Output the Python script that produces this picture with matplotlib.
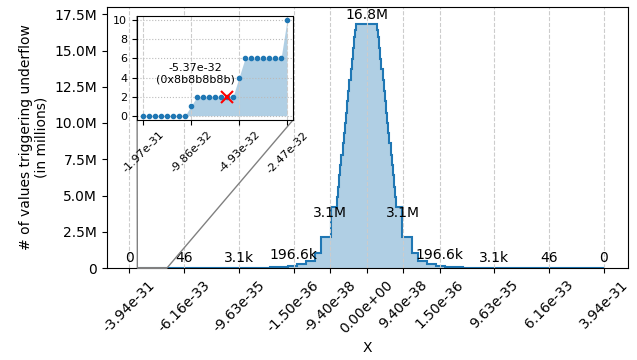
import numpy as np
import matplotlib.pyplot as plt

# x axis = float32 bit-pattern ordinal, in units of one exponent (2^23 patterns)
tick_pos = [-26, -20, -14, -8, -4, 0, 4, 8, 14, 20, 26]
tick_labels = ['-3.94e-31', '-6.16e-33', '-9.63e-35', '-1.50e-36', '-9.40e-38', '0.00e+00',
               '9.40e-38', '1.50e-36', '9.63e-35', '6.16e-33', '3.94e-31']
peak_values = [0, 46, 3072, 196608, 3145728, 16777216, 3145728, 196608, 3072, 46, 0]
peak_text = ['0', '46', '3.1k', '196.6k', '3.1M', '16.8M', '3.1M', '196.6k', '3.1k', '46', '0']

# step edges and counts (millions)
edges = [-25.2, -20, -16, -12.6, -10.6, -9.6, -8.6, -7.6, -6.6, -5.6, -5.0, -3.875,
         -3.25, -3.125, -3.0, -2.875, -2.75, -2.625, -2.5, -2.375, -2.25,
         -2.125, -2.0, -1.875, -1.75, -1.625, -1.5, -1.375, -1.25, -1.125,
         1.125, 1.25, 1.375, 1.5, 1.625, 1.75, 1.875, 2.0, 2.125,
         2.25, 2.375, 2.5, 2.625, 2.75, 2.875, 3.0, 3.125, 3.25,
         3.875, 4.98, 5.6, 6.6, 7.6, 8.6, 9.6, 10.6, 12.6, 16, 20, 26.0]
counts_m = [0.00002, 0.0003, 0.003, 0.012, 0.035, 0.07, 0.14, 0.26, 0.45, 1.03, 2.17,
            4.2,
            4.9, 5.6, 6.4, 7.1, 7.8, 8.6, 9.3, 10.0, 10.7,
            11.5, 12.2, 13.0, 13.7, 14.4, 15.2, 15.9, 16.4,
            16.8,
            16.4, 15.9, 15.2, 14.4, 13.7, 13.0, 12.2, 11.5,
            10.7, 10.0, 9.3, 8.6, 7.8, 7.1, 6.4, 5.6, 4.9,
            4.2, 2.17, 1.03, 0.45, 0.26, 0.14, 0.07, 0.035, 0.012, 0.003, 0.0003, 0.00002]

# zoomed region
inset_x = [-25.0, -24.875, -24.75, -24.625, -24.5, -24.375, -24.25, -24.125,
           -24.0, -23.875, -23.75, -23.625, -23.5, -23.375, -23.25, -23.125,
           -23.0, -22.875, -22.75, -22.625, -22.5, -22.375, -22.25, -22.125, -22.0]
inset_y = [0, 0, 0, 0, 0, 0, 0, 0, 1, 2, 2, 2, 2, 2, 2, 2, 4, 6, 6, 6, 6, 6, 6, 6, 10]
inset_ticks = [-25, -24, -23, -22]
inset_labels = ['-1.97e-31', '-9.86e-32', '-4.93e-32', '-2.47e-32']
mark_idx = 14

counts = np.array(counts_m) * 1e6

fig = plt.figure(figsize=(6.37, 3.6), dpi=100)
ax = fig.add_axes([107/637, 1 - 268/360, 521/637, 261/360])

ax.stairs(counts, edges, fill=True, color='tab:blue', alpha=0.35, lw=0)
ax.stairs(counts, edges, color='tab:blue', lw=1.5)

for x, v, t in zip(tick_pos, peak_values, peak_text):
    ax.annotate(t, (x, v), xytext=(0, 2), textcoords='offset points',
                ha='center', va='bottom', fontsize=10)

ax.set_xlim(-28.45, 28.65)
ax.set_ylim(0, 18e6)
ax.set_xticks(tick_pos)
ax.set_xticklabels(tick_labels, rotation=45)
ax.set_yticks(np.arange(0, 17.6e6, 2.5e6))
ax.set_yticklabels(['0'] + [f'{v/1e6:.1f}M' for v in np.arange(2.5e6, 17.6e6, 2.5e6)])
ax.grid(axis='x', ls='--', color='#cccccc', lw=0.8)
ax.set_xlabel('X')
ax.set_ylabel('# of values triggering underflow\n(in millions)')

axins = ax.inset_axes([30/521, 148/261, 156/521, 104/261])
axins.fill_between(inset_x, inset_y, color='tab:blue', alpha=0.35, lw=0)
axins.plot(inset_x, inset_y, 'o', color='tab:blue', ms=3)
axins.plot(inset_x[mark_idx], inset_y[mark_idx], 'x', color='red', ms=8, mew=1.5)
axins.text(-23.9, 4.4, '-5.37e-32\n(0x8b8b8b8b)', ha='center', va='center', fontsize=8)
axins.set_xticks(inset_ticks)
axins.set_xticklabels(inset_labels, rotation=45, fontsize=8)
axins.set_yticks([0, 2, 4, 6, 8, 10])
axins.tick_params(axis='y', labelsize=8)
axins.grid(axis='x', ls='--', color='#cccccc', lw=0.8)
axins.grid(axis='y', ls=':', color='#bbbbbb', lw=0.8)
axins.set_xlim(-25.125, -21.875)
axins.set_ylim(-0.45, 10.45)
ax.indicate_inset_zoom(axins, edgecolor='gray', alpha=1)

fig.savefig('out.png')
